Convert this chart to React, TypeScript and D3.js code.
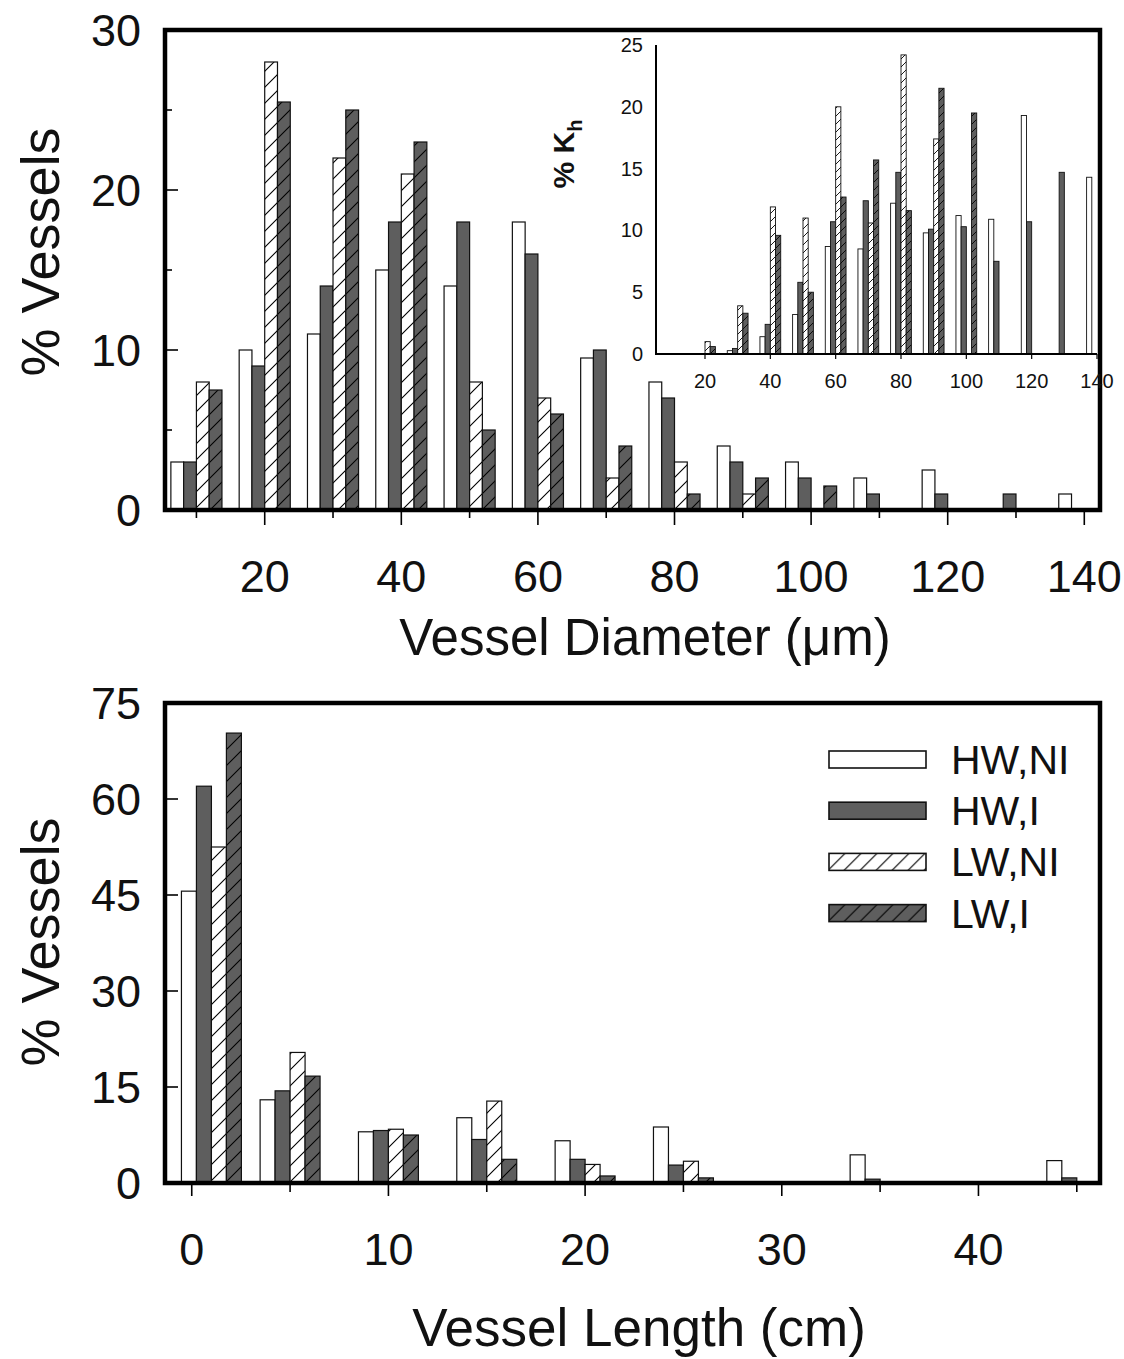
import React, { useEffect, useRef } from 'react'
import * as d3 from 'd3'

const seriesNames = ['HW,NI', 'HW,I', 'LW,NI', 'LW,I']

// top panel: % vessels by diameter class (um)
const diamBins = [10, 20, 30, 40, 50, 60, 70, 80, 90, 100, 110, 120, 130, 140]
const diamHWNI = [3, 10, 11, 15, 14, 18, 9.5, 8, 4, 3, 2, 2.5, 0, 1]
const diamHWI = [3, 9, 14, 18, 18, 16, 10, 7, 3, 2, 1, 1, 1, 0]
const diamLWNI = [8, 28, 22, 21, 8, 7, 2, 3, 1, 0, 0, 0, 0, 0]
const diamLWI = [7.5, 25.5, 25, 23, 5, 6, 4, 1, 2, 1.5, 0, 0, 0, 0]
const diamXTicks = [20, 40, 60, 80, 100, 120, 140]
const diamXMinor = [10, 30, 50, 70, 90, 110, 130]
const diamYTicks = [0, 10, 20, 30]
const diamYMinor = [5, 15, 25]

// inset: % Kh by diameter class
const khBins = [20, 30, 40, 50, 60, 70, 80, 90, 100, 110, 120, 130, 140]
const khHWNI = [0, 0.27, 1.4, 3.2, 8.7, 8.5, 12.2, 9.8, 11.2, 10.9, 19.3, 0, 14.3]
const khHWI = [0, 0.45, 2.4, 5.8, 10.7, 12.4, 14.7, 10.1, 10.3, 7.5, 10.7, 14.7, 0]
const khLWNI = [1.0, 3.9, 11.9, 11.0, 20.0, 10.6, 24.2, 17.4, 0, 0, 0, 0, 0]
const khLWI = [0.6, 3.3, 9.6, 5.0, 12.7, 15.7, 11.6, 21.5, 19.5, 0, 0, 0, 0]
const khXTicks = [20, 40, 60, 80, 100, 120, 140]
const khYTicks = [0, 5, 10, 15, 20, 25]

// bottom panel: % vessels by length class (cm)
const lenBins = [1, 5, 10, 15, 20, 25, 35, 45]
const lenHWNI = [45.6, 13, 8, 10.2, 6.6, 8.75, 4.4, 3.5]
const lenHWI = [62, 14.4, 8.2, 6.8, 3.7, 2.8, 0.6, 0.8]
const lenLWNI = [52.5, 20.4, 8.4, 12.8, 2.9, 3.4, 0, 0]
const lenLWI = [70.3, 16.7, 7.5, 3.7, 1.1, 0.8, 0, 0]
const lenXTicks = [0, 10, 20, 30, 40]
const lenXMinor = [5, 15, 25, 35, 45]
const lenYTicks = [0, 15, 30, 45, 60, 75]

const FONT = '"Liberation Sans", Arial, Helvetica, sans-serif'
const DARK = '#5e5e5e'

function hatch(defs: any, id: string, bg: string, s: number, w: number) {
  const p = defs.append('pattern').attr('id', id)
    .attr('patternUnits', 'userSpaceOnUse').attr('width', s).attr('height', s)
  p.append('rect').attr('width', s).attr('height', s).attr('fill', bg)
  p.append('path')
    .attr('d', `M0,${s} L${s},0 M${-s / 4},${s / 4} L${s / 4},${-s / 4} M${3 * s / 4},${5 * s / 4} L${5 * s / 4},${3 * s / 4}`)
    .attr('stroke', '#000').attr('stroke-width', w)
}

// grouped bars: 4 series side by side, group centred on the bin
function bars(g: any, bins: number[], series: number[][], x: any, y: any, bw: number, fills: string[], sw: number) {
  series.forEach((vals, i) => {
    g.append('g').selectAll('rect')
      .data(bins.map((b, j) => ({ b, v: vals[j] })).filter(d => d.v > 0))
      .join('rect')
      .attr('x', (d: any) => x(d.b - 2 * bw + i * bw))
      .attr('width', (d: any) => x(d.b - 2 * bw + (i + 1) * bw) - x(d.b - 2 * bw + i * bw))
      .attr('y', (d: any) => y(d.v))
      .attr('height', (d: any) => y(0) - y(d.v))
      .attr('fill', fills[i])
      .attr('stroke', '#111')
      .attr('stroke-width', sw)
  })
}

function frame(g: any, x: any, y: any) {
  const [x0, x1] = x.range()
  const [y0, y1] = y.range()
  g.append('rect').attr('x', x0).attr('y', y1).attr('width', x1 - x0).attr('height', y0 - y1)
    .attr('fill', 'none').attr('stroke', '#000').attr('stroke-width', 4.5)
}

function xTicks(g: any, vals: number[], x: any, y0: number, len: number) {
  g.append('g').selectAll('line').data(vals).join('line')
    .attr('x1', (d: number) => x(d)).attr('x2', (d: number) => x(d))
    .attr('y1', y0).attr('y2', y0 + len).attr('stroke', '#000').attr('stroke-width', 1.6)
}

function yTicks(g: any, vals: number[], y: any, x0: number, len: number) {
  g.append('g').selectAll('line').data(vals).join('line')
    .attr('x1', x0).attr('x2', x0 + len)
    .attr('y1', (d: number) => y(d)).attr('y2', (d: number) => y(d)).attr('stroke', '#000').attr('stroke-width', 1.6)
}

function labels(g: any, vals: number[], fx: (d: number) => number, fy: (d: number) => number, anchor: string, size: number) {
  g.append('g').selectAll('text').data(vals).join('text')
    .attr('x', fx).attr('y', fy).attr('text-anchor', anchor)
    .attr('font-size', size).attr('font-family', FONT).attr('fill', '#111')
    .text((d: number) => d)
}

export default function App() {
  const ref = useRef<SVGSVGElement>(null)

  useEffect(() => {
    const svg = d3.select(ref.current)
    svg.selectAll('*').remove()
    const defs = svg.append('defs')
    hatch(defs, 'hatchW', '#fff', 16, 1.1)
    hatch(defs, 'hatchD', DARK, 16, 1.1)
    hatch(defs, 'hatchWs', '#fff', 8, 0.9)
    hatch(defs, 'hatchDs', DARK, 8, 0.9)
    const fillsBig = ['#fff', DARK, 'url(#hatchW)', 'url(#hatchD)']
    const fillsSmall = ['#fff', DARK, 'url(#hatchWs)', 'url(#hatchDs)']

    // ---- top panel: diameter
    const g1 = svg.append('g')
    const x1 = d3.scaleLinear().domain([5.4, 142.3]).range([165, 1100])
    const y1 = d3.scaleLinear().domain([0, 30]).range([510, 30])
    bars(g1, diamBins, [diamHWNI, diamHWI, diamLWNI, diamLWI], x1, y1, 1.87, fillsBig, 1.2)
    xTicks(g1, diamXTicks, x1, 510, 15)
    xTicks(g1, diamXMinor, x1, 510, 8)
    yTicks(g1, diamYTicks, y1, 165, 13)
    yTicks(g1, diamYMinor, y1, 165, 7)
    frame(g1, x1, y1)
    labels(g1, diamXTicks, d => x1(d), () => 592, 'middle', 45)
    labels(g1, diamYTicks, () => 141, d => y1(d) + 16, 'end', 45)
    g1.append('text').attr('x', 645).attr('y', 655).attr('text-anchor', 'middle')
      .attr('font-size', 51).attr('font-family', FONT).attr('fill', '#111')
      .text('Vessel Diameter (μm)')
    g1.append('text').attr('transform', 'translate(59,252) rotate(-90)').attr('text-anchor', 'middle')
      .attr('font-size', 54).attr('font-family', FONT).attr('fill', '#111')
      .text('% Vessels')

    // ---- inset: % Kh
    const gi = svg.append('g')
    const xi = d3.scaleLinear().domain([5, 140]).range([656, 1097])
    const yi = d3.scaleLinear().domain([0, 25]).range([354, 45])
    bars(gi, khBins, [khHWNI, khHWI, khLWNI, khLWI], xi, yi, 1.59, fillsSmall, 0.9)
    gi.append('path').attr('d', d3.line()([[xi(5), yi(25)], [xi(5), yi(0)], [xi(140), yi(0)]]))
      .attr('fill', 'none').attr('stroke', '#000').attr('stroke-width', 2)
    gi.append('g').selectAll('line').data(khXTicks).join('line')
      .attr('x1', (d: number) => xi(d)).attr('x2', (d: number) => xi(d))
      .attr('y1', yi(0)).attr('y2', yi(0) + 5).attr('stroke', '#000').attr('stroke-width', 1.2)
    labels(gi, khXTicks, d => xi(d), () => 388, 'middle', 20)
    labels(gi, khYTicks, () => 643, d => yi(d) + 7, 'end', 20)
    const kt = gi.append('text').attr('transform', 'translate(574,154) rotate(-90)').attr('text-anchor', 'middle')
      .attr('font-size', 30).attr('font-weight', 'bold').attr('font-family', FONT).attr('fill', '#111')
    kt.append('tspan').text('% K')
    kt.append('tspan').attr('font-size', 20).attr('dy', 8).text('h')

    // ---- bottom panel: length
    const g2 = svg.append('g')
    const x2 = d3.scaleLinear().domain([-1.36, 46.18]).range([165, 1100])
    const y2 = d3.scaleLinear().domain([0, 75]).range([1183, 703])
    bars(g2, lenBins, [lenHWNI, lenHWI, lenLWNI, lenLWI], x2, y2, 0.762, fillsBig, 1.2)
    xTicks(g2, lenXTicks, x2, 1183, 13)
    xTicks(g2, lenXMinor, x2, 1183, 9)
    yTicks(g2, lenYTicks, y2, 165, 13)
    frame(g2, x2, y2)
    labels(g2, lenXTicks, d => x2(d), () => 1265, 'middle', 45)
    labels(g2, lenYTicks, () => 141, d => y2(d) + 16, 'end', 45)
    g2.append('text').attr('x', 639).attr('y', 1346).attr('text-anchor', 'middle')
      .attr('font-size', 53).attr('font-family', FONT).attr('fill', '#111')
      .text('Vessel Length (cm)')
    g2.append('text').attr('transform', 'translate(59,942) rotate(-90)').attr('text-anchor', 'middle')
      .attr('font-size', 54).attr('font-family', FONT).attr('fill', '#111')
      .text('% Vessels')

    // legend
    const lg = g2.append('g').selectAll('g').data(seriesNames).join('g')
      .attr('transform', (_d: string, i: number) => `translate(829,${751 + i * 51.2})`)
    lg.append('rect').attr('width', 97).attr('height', 17)
      .attr('fill', (_d: string, i: number) => fillsBig[i]).attr('stroke', '#111').attr('stroke-width', 1.6)
    lg.append('text').attr('x', 122).attr('y', 23).attr('font-size', 41).attr('font-family', FONT).attr('fill', '#111')
      .text((d: string) => d)
  }, [])

  return (
    <svg ref={ref} width={1124} height={1359}
      style={{ position: 'absolute', left: 0, top: 0, background: '#fff' }} />
  )
}
